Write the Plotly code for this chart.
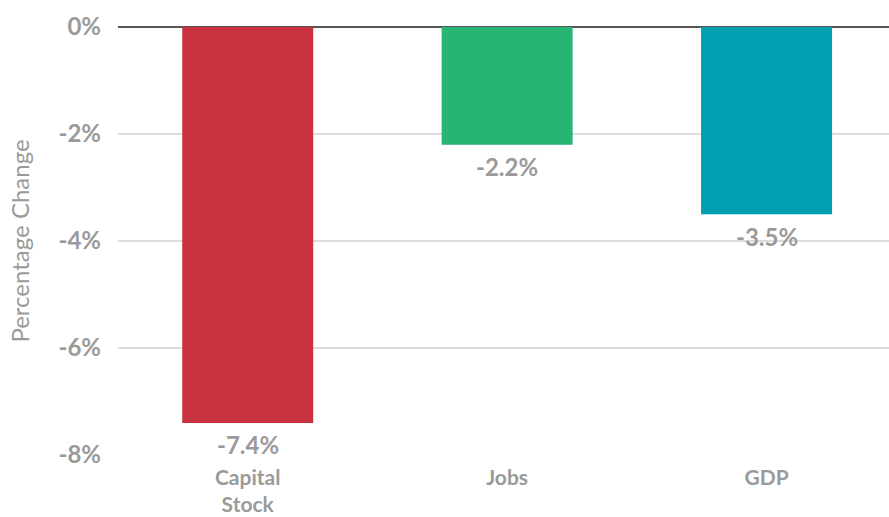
import plotly.graph_objects as go

categories = ["Capital<br>Stock", "Jobs", "GDP"]
values = [-7.4, -2.2, -3.5]
labels = ["-7.4%", "-2.2%", "-3.5%"]
colors = ["#C8313E", "#26B573", "#00A0B0"]
tick_vals = [0, -2, -4, -6, -8]
tick_text = ["0%", "-2%", "-4%", "-6%", "-8%"]

GRAY = "#9a9a9a"

fig = go.Figure(go.Bar(
    x=categories, y=values, marker_color=colors, marker_line_width=0,
    width=0.505, cliponaxis=False, hoverinfo="skip",
))

for c, v, t in zip(categories, values, labels):
    fig.add_annotation(x=c, y=v, text=t, showarrow=False, yanchor="middle",
                       yshift=-22,
                       font=dict(family="Lato", size=24, color=GRAY, weight="bold"))

fig.update_layout(
    width=889, height=517,
    margin=dict(l=118, r=0, t=27, b=62),
    plot_bgcolor="white", paper_bgcolor="white",
    showlegend=False,
    xaxis=dict(range=[-0.5, 2.472], showgrid=False, showline=False, ticks="",
               automargin=False, ticklabelstandoff=8,
               tickfont=dict(family="Lato", size=21, color=GRAY, weight="bold")),
    yaxis=dict(range=[-8, 0], tickvals=tick_vals, ticktext=tick_text,
               automargin=False,
               showgrid=True, gridcolor="#dcdcdc", gridwidth=1.5,
               zeroline=True, zerolinecolor="#555555", zerolinewidth=1.5,
               showline=False, ticks="", ticklabelstandoff=16,
               tickfont=dict(family="Lato", size=24, color=GRAY, weight="bold"),
               title=dict(text="Percentage Change", standoff=22,
                          font=dict(family="Lato", size=24, color=GRAY))),
)

fig.write_html("out.html")
